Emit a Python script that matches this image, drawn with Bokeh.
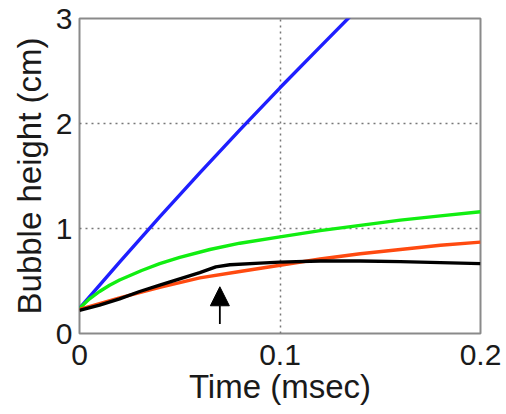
from bokeh.plotting import figure
from bokeh.models import FixedTicker, Arrow, NormalHead, Range1d
from bokeh.embed import file_html
from bokeh.resources import INLINE

# ---- data ----
x_ticks = [0, 0.1, 0.2]
x_tick_labels = ["0", "0.1", "0.2"]
y_ticks = [0, 1, 2, 3]
y_tick_labels = ["0", "1", "2", "3"]

blue_t = [0, 0.02, 0.04, 0.06, 0.08, 0.10, 0.12, 0.135]
blue_h = [0.24, 0.68, 1.11, 1.53, 1.94, 2.34, 2.73, 3.02]

green_t = [0, 0.005, 0.01, 0.015, 0.02, 0.031, 0.04, 0.05, 0.065, 0.08, 0.10, 0.12, 0.14, 0.16, 0.18, 0.20]
green_h = [0.24, 0.33, 0.40, 0.46, 0.51, 0.60, 0.665, 0.725, 0.80, 0.86, 0.92, 0.98, 1.03, 1.08, 1.12, 1.16]

orange_t = [0, 0.02, 0.04, 0.06, 0.08, 0.10, 0.12, 0.14, 0.16, 0.18, 0.20]
orange_h = [0.23, 0.34, 0.44, 0.53, 0.59, 0.65, 0.71, 0.76, 0.80, 0.84, 0.87]

black_t = [0, 0.01, 0.02, 0.03, 0.04, 0.05, 0.06, 0.068, 0.075, 0.09, 0.10, 0.12, 0.14, 0.16, 0.18, 0.20]
black_h = [0.22, 0.27, 0.33, 0.40, 0.46, 0.52, 0.58, 0.635, 0.655, 0.67, 0.68, 0.69, 0.69, 0.685, 0.675, 0.665]

arrow_x = 0.07
arrow_y0 = 0.09
arrow_y1 = 0.445

FONT = "Liberation Sans"
TICK_FS = "30px"
LABEL_FS = "33px"

p = figure(frame_width=401, frame_height=315,
           min_border_left=79, min_border_right=26,
           min_border_top=18, min_border_bottom=81,
           x_range=Range1d(0, 0.2), y_range=Range1d(0, 3),
           output_backend="svg", toolbar_location=None,
           background_fill_color="white", border_fill_color="white")

p.outline_line_color = "#8a8a8a"
p.outline_line_width = 2

for ax in (p.xaxis[0], p.yaxis[0]):
    ax.axis_line_color = None
    ax.major_tick_line_color = None
    ax.minor_tick_line_color = None
    ax.major_tick_out = 0
    ax.major_tick_in = 0
    ax.major_label_text_font = FONT
    ax.major_label_text_font_size = TICK_FS
    ax.major_label_text_color = "#1a1a1a"
    ax.axis_label_text_font = FONT
    ax.axis_label_text_font_size = LABEL_FS
    ax.axis_label_text_font_style = "normal"
    ax.axis_label_text_color = "#1a1a1a"

p.xaxis.ticker = FixedTicker(ticks=x_ticks)
p.xaxis.major_label_overrides = {t: l for t, l in zip(x_ticks, x_tick_labels)}
p.yaxis.ticker = FixedTicker(ticks=y_ticks)
p.yaxis.major_label_overrides = {t: l for t, l in zip(y_ticks, y_tick_labels)}
p.xaxis.axis_label = "Time (msec)"
p.yaxis.axis_label = "Bubble height (cm)"
p.xaxis.major_label_standoff = 11
p.xaxis.axis_label_standoff = 0
p.yaxis.major_label_standoff = 7
p.yaxis.axis_label_standoff = 5

p.xgrid.ticker = FixedTicker(ticks=[0.1])
p.ygrid.ticker = FixedTicker(ticks=[1, 2])
for g in (p.xgrid[0], p.ygrid[0]):
    g.grid_line_color = "#777777"
    g.grid_line_dash = "2 4"
    g.grid_line_width = 1.5

p.line(blue_t, blue_h, line_color="#1f1fff", line_width=3.4)
p.line(green_t, green_h, line_color="#11ee11", line_width=3.4)
p.line(orange_t, orange_h, line_color="#ff4a10", line_width=3.4)
p.line(black_t, black_h, line_color="black", line_width=3.4)

p.add_layout(Arrow(end=NormalHead(size=19, fill_color="black", line_color="black"),
                   x_start=arrow_x, y_start=arrow_y0, x_end=arrow_x, y_end=arrow_y1,
                   line_color="black", line_width=1.8))

open("out.html", "w").write(file_html(p, INLINE))
